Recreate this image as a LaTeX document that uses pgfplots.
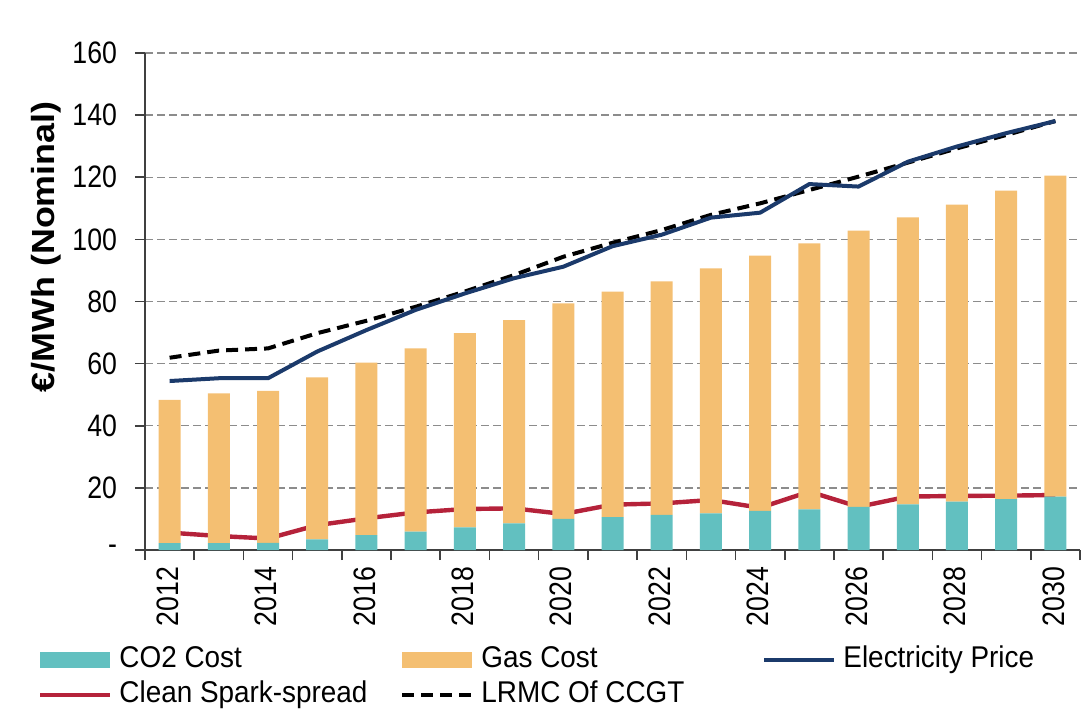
\documentclass[border=0pt]{standalone}
\usepackage{fontspec}
\setmainfont{Liberation Sans}
\newfontfamily\tickfont{Liberation Sans}[FakeStretch=0.86]
\newfontfamily\legfont{Liberation Sans}[FakeStretch=0.93]
\newfontfamily\labfont{Liberation Sans}[FakeStretch=1.12]
\usepackage{pgfplots}
\usepackage{pgfplotstable}
\pgfplotsset{compat=1.18}
\definecolor{co2}{HTML}{62C0C0}
\definecolor{gas}{HTML}{F4BF72}
\definecolor{elec}{HTML}{1B3A6B}
\definecolor{spark}{HTML}{B5223A}
\definecolor{axisgray}{HTML}{404040}
\definecolor{gridgray}{HTML}{8C8C8C}
\pgfplotsset{
  barleg/.style={legend image code/.code={\fill[##1] (0pt,-4pt) rectangle (35pt,4pt); \path (38.5pt,0pt);}},
  lineleg/.style={legend image code/.code={\draw[##1] (0pt,0pt) -- (35pt,0pt); \path (38.5pt,0pt);}},
}
\pgfplotstableread{
x co2 gas elec lrmc spark
0 2.2 46.1 54.4 61.9 5.6
1 2.2 48.2 55.3 64.2 4.5
2 2.3 48.9 55.3 64.9 3.7
3 3.4 52.2 63.9 69.8 8.0
4 4.8 55.5 70.8 73.8 10.2
5 5.9 59.0 77.3 78.3 12.1
6 7.3 62.5 82.6 83.2 13.2
7 8.6 65.4 87.5 88.5 13.4
8 10.0 69.4 91.2 94.4 11.6
9 10.6 72.6 97.8 98.9 14.6
10 11.3 75.2 101.5 103.0 15.0
11 11.8 78.9 107.0 107.9 16.1
12 12.6 82.2 108.6 111.6 13.6
13 13.1 85.6 117.8 115.9 18.8
14 13.9 88.9 117.0 120.2 13.9
15 14.7 92.4 125.0 124.7 17.2
16 15.6 95.6 129.9 129.3 17.4
17 16.4 99.3 134.2 133.6 17.5
18 17.2 103.3 138.1 138.1 17.7
}\data
\begin{document}
\begin{tikzpicture}
\useasboundingbox (0,0) rectangle (542.5pt,354pt);
\begin{axis}[
  at={(72.5pt,79pt)}, anchor=south west,
  width=467.5pt, height=248.5pt, scale only axis,
  xmin=-0.5, xmax=18.5, ymin=0, ymax=160,
  enlargelimits=false,
  ybar stacked, bar width=11pt,
  axis x line*=bottom, axis y line*=left,
  axis line style={draw=axisgray, line width=0.8pt},
  tick align=outside,
  major tick length=5pt, minor tick length=5pt,
  tick style={draw=axisgray, line width=0.8pt},
  major x tick style={draw=none},
  xtick={0,2,...,18},
  xticklabels={2012,2014,2016,2018,2020,2022,2024,2026,2028,2030},
  minor xtick={-0.5,0.5,...,18.5},
  ytick={0,20,...,160},
  yticklabels={-,20,40,60,80,100,120,140,160},
  ymajorgrids,
  major grid style={draw=gridgray, line width=0.7pt, dash pattern=on 4pt off 2pt},
  xticklabel style={rotate=90, anchor=east, yshift=1pt, font=\tickfont\fontsize{15.5}{16}\selectfont},
  yticklabel style={anchor=east, xshift=-5.5pt, font=\tickfont\fontsize{15.5}{16}\selectfont},
  ylabel={\labfont\bfseries €/MWh (Nominal)},
  ylabel style={at={(axis description cs:-0.106,0.61)}, anchor=center, font=\fontsize{16}{18}\selectfont},
  legend columns=3,
  legend style={at={(-0.1144,-0.193)}, anchor=north west, draw=none, fill=none,
    inner sep=0pt, outer sep=0pt, row sep=3.5pt, column sep=0pt,
    font=\legfont\fontsize{15}{16}\selectfont,
    nodes={inner sep=0pt, text height=11pt, text depth=3pt}},
  legend cell align=left,
]
\addplot[fill=co2, draw=none, barleg] table[x=x, y=co2] {\data};
\addlegendentry{\makebox[140.5pt][l]{CO2 Cost}}
\addplot[fill=gas, draw=none, barleg] table[x=x, y=gas] {\data};
\addlegendentry{\makebox[140.5pt][l]{Gas Cost}}
\addplot[sharp plot, stack plots=false, mark=none, draw=elec, line width=2pt, lineleg]
  table[x=x, y=elec] {\data};
\addlegendentry{\makebox[140.5pt][l]{Electricity Price}}
\addplot[sharp plot, stack plots=false, mark=none, draw=spark, line width=2.2pt, lineleg]
  table[x=x, y=spark] {\data};
\addlegendentry{\makebox[140.5pt][l]{Clean Spark-spread}}
\addplot[sharp plot, stack plots=false, mark=none, draw=black, line width=2pt,
  dash pattern=on 6pt off 3.5pt, lineleg]
  table[x=x, y=lrmc] {\data};
\addlegendentry{\makebox[140.5pt][l]{LRMC Of CCGT}}
\end{axis}
\end{tikzpicture}
\end{document}
